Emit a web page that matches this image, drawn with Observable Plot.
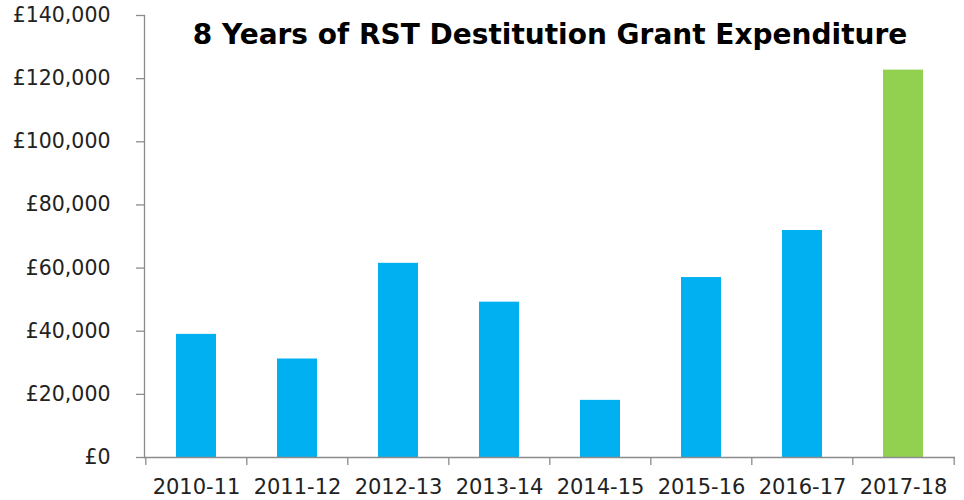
<!DOCTYPE html>
<html><head><meta charset="utf-8">
<script src="https://cdn.jsdelivr.net/npm/d3@7"></script>
<script src="https://cdn.jsdelivr.net/npm/@observablehq/plot@0.6"></script>
<style>body{margin:0;background:#fff;} svg{display:block;}</style>
</head><body><div id="chart"></div>
<script>
const years = ["2010-11","2011-12","2012-13","2013-14","2014-15","2015-16","2016-17","2017-18"];
const expenditure = [39000, 31200, 61500, 49200, 18100, 57000, 71900, 122700];
const barColors = ["#00B0F0","#00B0F0","#00B0F0","#00B0F0","#00B0F0","#00B0F0","#00B0F0","#92D050"];
const yTicks = [0,20000,40000,60000,80000,100000,120000,140000];
const title = "8 Years of RST Destitution Grant Expenditure";

const data = years.map((y,i)=>({year:y, value:expenditure[i], color:barColors[i]}));
const fmt = v => "£" + d3.format(",")(v);

const W = 964, ML = 144, MR = 9;
const step = (W - ML - MR) / years.length;
const axisColor = "#8c8c8c";

const chart = Plot.plot({
  width: W, height: 500,
  marginLeft: ML, marginRight: MR, marginTop: 15, marginBottom: 43,
  style: {fontFamily: "DejaVu Sans", fontSize: "20px", color: "#222", background: "#fff"},
  x: {domain: years, paddingInner: 0.6, paddingOuter: 0.3, label: null},
  y: {domain: [0,140000], label: null},
  marks: [
    Plot.barY(data, {x:"year", y:"value", fill:"color"}),
    Plot.frame({anchor:"left", stroke: axisColor, strokeWidth: 1.3}),
    Plot.ruleY([0], {stroke: axisColor, strokeWidth: 1.3}),
    Plot.ruleX(years, {x: d=>d, y1: 0, y2: 0, insetBottom: -8, dx: -step/2, stroke: axisColor, strokeWidth: 1.3}),
    Plot.ruleX([years[years.length-1]], {x: d=>d, y1: 0, y2: 0, insetBottom: -8, dx: step/2, stroke: axisColor, strokeWidth: 1.3}),
    Plot.axisY({ticks: yTicks, tickFormat: fmt, tickSize: 8, stroke: axisColor, strokeOpacity: 1, strokeWidth: 1.3, tickPadding: 26, fontSize: 20.5, fill: "#222"}),
    Plot.axisX({tickSize: 0, tickPadding: 22, fontSize: 21, fill: "#222"}),
    Plot.text([title], {frameAnchor:"top", dy: 20, lineAnchor:"middle", fontWeight:"bold", fontSize: 28, fill:"#000"})
  ]
});
document.getElementById("chart").appendChild(chart);
</script>
</body></html>
